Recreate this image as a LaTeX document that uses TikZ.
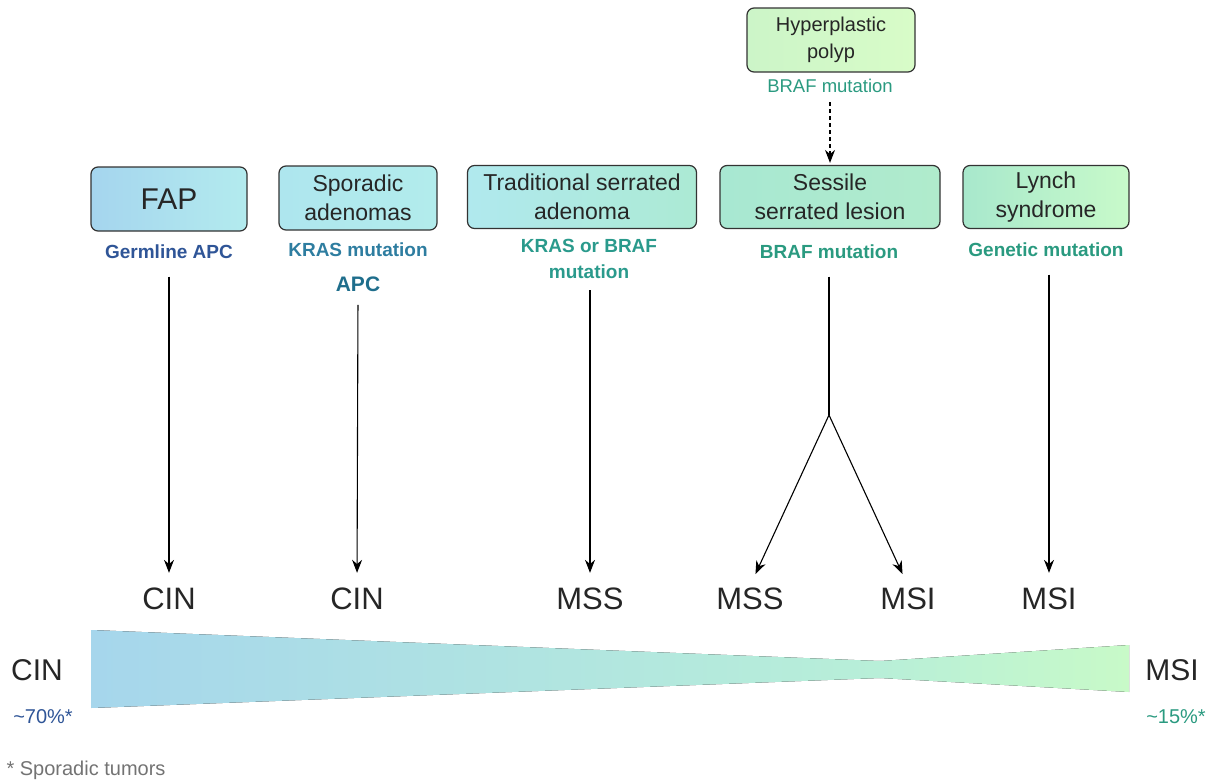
\documentclass[tikz,border=0pt]{standalone}
\usepackage{fontspec}
\setmainfont{Liberation Sans}
\usetikzlibrary{arrows.meta}

\definecolor{fapA}{HTML}{A5D5EE}
\definecolor{fapB}{HTML}{B3EBEE}
\definecolor{spoA}{HTML}{AEE6EE}
\definecolor{spoB}{HTML}{B2ECEC}
\definecolor{tsaA}{HTML}{B0E9EE}
\definecolor{tsaB}{HTML}{ACEAD4}
\definecolor{sslA}{HTML}{A8E8D2}
\definecolor{sslB}{HTML}{B0EBCC}
\definecolor{lynA}{HTML}{A8E8CC}
\definecolor{lynB}{HTML}{C8FACA}
\definecolor{hppA}{HTML}{CCF5C8}
\definecolor{hppB}{HTML}{D8FCC8}
\definecolor{germblue}{HTML}{2F5597}
\definecolor{krasblue}{HTML}{2E7DA0}
\definecolor{apcblue}{HTML}{1F6E8C}
\definecolor{tealA}{HTML}{2A9A8C}
\definecolor{tealB}{HTML}{2A9A80}
\definecolor{wedgeA}{HTML}{A6D6EC}
\definecolor{wedgeM}{HTML}{B8EFD8}
\definecolor{wedgeB}{HTML}{C8FAC8}

\tikzset{
  stage/.style={draw=black!80, line width=1.2pt, rounded corners=7pt, align=center,
    inner sep=0pt, text=black!85, font=\fontsize{23}{29}\selectfont},
  gene/.style={align=center, font=\bfseries\fontsize{19}{26}\selectfont},
  result/.style={inner sep=2pt, text=black!85, font=\fontsize{31}{32}\selectfont},
  flow/.style={-{Stealth[length=13pt,width=10pt]}, line width=1.1pt},
}

\begin{document}
\begin{tikzpicture}[x=1pt,y=-1pt]
	\useasboundingbox (0,0) rectangle (1216,782);

	% stages
	\node[stage, minimum width=156, minimum height=64, left color=fapA, right color=fapB] (fap) at (169,199) {\fontsize{30}{32}\selectfont FAP};
	\node[stage, minimum width=158, minimum height=64, left color=spoA, right color=spoB] (spo) at (358,198) {Sporadic\\adenomas};
	\node[stage, minimum width=229, minimum height=63, left color=tsaA, right color=tsaB] (tsa) at (582,197) {Traditional serrated\\adenoma};
	\node[stage, minimum width=220, minimum height=63, left color=sslA, right color=sslB] (ssl) at (830,197) {Sessile\\serrated lesion};
	\node[stage, minimum width=166, minimum height=63, left color=lynA, right color=lynB] (lyn) at (1046,197) {Lynch\\syndrome};
	\node[stage, minimum width=168, minimum height=64, left color=hppA, right color=hppB, font=\fontsize{20}{27}\selectfont] (hpp) at (831,40) {Hyperplastic\\polyp};

	% mutations
	\node[gene, text=germblue] (fapg) at (169,252) {Germline APC};
	\node[gene, text=krasblue] (spog) at (358,250) {KRAS mutation};
	\node[gene, text=apcblue, font=\bfseries\fontsize{21}{24}\selectfont] (apc) at (358,284) {APC};
	\node[gene, text=tealA] (tsag) at (589,259) {KRAS or BRAF\\mutation};
	\node[gene, text=tealB] (sslg) at (829,252) {BRAF mutation};
	\node[gene, text=tealB] (lyng) at (1046,250) {Genetic mutation};
	\node[text=tealB, font=\fontsize{18.5}{20}\selectfont] (hppg) at (830,86) {BRAF mutation};

	% outcomes
	\node[result] (cin1) at (169,599) {CIN};
	\node[result] (cin2) at (357,599) {CIN};
	\node[result] (mss1) at (590,599) {MSS};
	\node[result] (mss2) at (750,599) {MSS};
	\node[result] (msi1) at (908,599) {MSI};
	\node[result] (msi2) at (1049,599) {MSI};

	% arrows
	\draw[flow, shorten <=14pt, shorten >=13pt] (fapg.south) -- (cin1.north);
	\draw[flow, shorten <=10pt, shorten >=13pt] (apc.south) -- (cin2.north);
	\draw[flow, shorten <=8pt, shorten >=13pt] (tsag.south -| mss1) -- (mss1.north);
	\draw[flow, shorten <=14pt, shorten >=13pt] (lyng.south -| msi2) -- (msi2.north);
	\draw[flow, dash pattern=on 4pt off 3pt, shorten <=6pt, shorten >=2pt] (hppg.south) -- (ssl.north);

	\coordinate (fork) at (829,415);
	\draw[line width=1.1pt, shorten <=14pt] (sslg.south) -- (fork);
	\draw[flow, shorten >=13pt] (fork) -- (mss2.north);
	\draw[flow, shorten >=13pt] (fork) -- (msi1.north);

	% proportion wedge
	\fill[left color=wedgeA, right color=wedgeM] (91,630) -- (880,661) -- (880,678) -- (91,708) -- cycle;
	\fill[left color=wedgeM, right color=wedgeB] (880,661) -- (1129,645) -- (1129,692) -- (880,678) -- cycle;

	\node[result, font=\fontsize{30}{32}\selectfont] (cinl) at (37,670) {CIN};
	\node[text=germblue, font=\fontsize{20}{22}\selectfont] (cinp) at (43,717) {\textasciitilde70\%*};
	\node[result, font=\fontsize{30}{32}\selectfont] (msir) at (1172,670) {MSI};
	\node[text=tealB, font=\fontsize{20}{22}\selectfont] (msip) at (1176,717) {\textasciitilde15\%*};

	\node[anchor=west, text=black!55, font=\fontsize{20}{22}\selectfont] (note) at (3,770) {* Sporadic tumors};
\end{tikzpicture}
\end{document}
